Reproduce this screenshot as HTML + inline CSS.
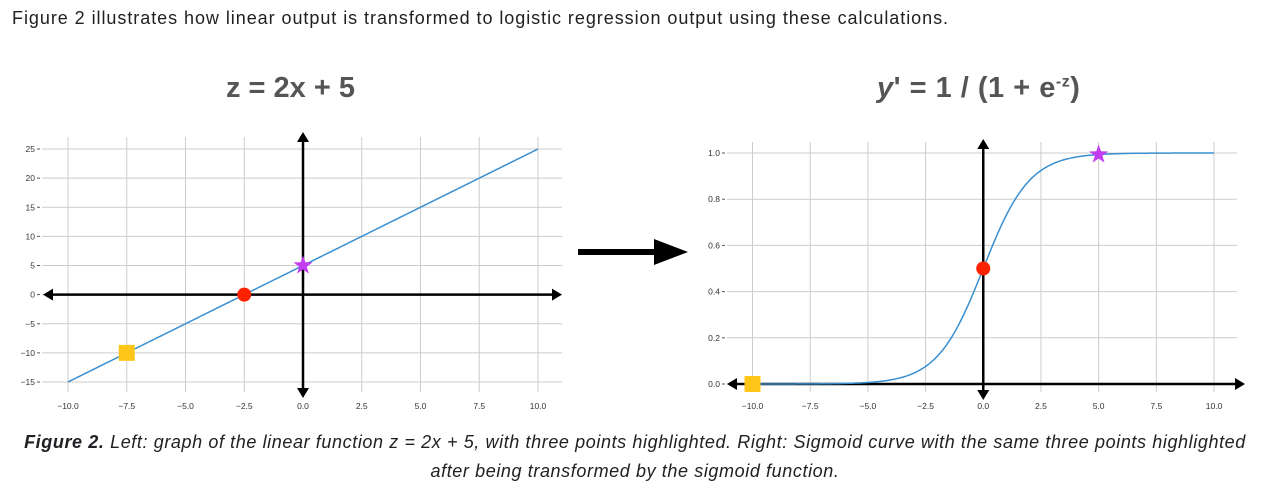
<!DOCTYPE html>
<html><head><meta charset="utf-8">
<style>
body{margin:0;width:1270px;height:499px;background:#fff;overflow:hidden;font-family:"Liberation Sans",sans-serif;}
#intro{position:absolute;left:12px;top:8px;font-size:18px;letter-spacing:0.95px;color:#202124;white-space:nowrap;}
.ttl{position:absolute;top:72px;font-size:29px;font-weight:bold;color:#555;white-space:nowrap;}
#cap{position:absolute;left:0;width:1270px;top:428px;text-align:center;font-size:18px;letter-spacing:0.6px;font-style:italic;color:#202124;line-height:29px;white-space:nowrap;}
svg{position:absolute;left:0;top:0;}
</style></head><body>
<div id="intro">Figure 2 illustrates how linear output is transformed to logistic regression output using these calculations.</div>
<div class="ttl" style="left:226px">z = 2x + 5</div>
<div class="ttl" style="left:877px;letter-spacing:0.5px"><i>y</i>' = 1 / (1 + e<sup style="font-size:16px">-z</sup>)</div>
<div id="cap"><b>Figure 2.</b> Left: graph of the linear function z = 2x + 5, with three points highlighted. Right: Sigmoid curve with the same three points highlighted<br>after being transformed by the sigmoid function.</div>
<svg id="s" width="1270" height="499">
<g><rect x="578" y="249" width="78" height="6" fill="#000"/><polygon points="654,239 688,252 654,265" fill="#000"/></g>
</svg>
<script>
const xTicks=[-10,-7.5,-5,-2.5,0,2.5,5,7.5,10];
const xTickLabels=["\u221210.0","\u22127.5","\u22125.0","\u22122.5","0.0","2.5","5.0","7.5","10.0"];
const leftYTicks=[25,20,15,10,5,0,-5,-10,-15];
const leftYLabels=["25","20","15","10","5","0","\u22125","\u221210","\u221215"];
const rightYTicks=[1.0,0.8,0.6,0.4,0.2,0.0];
const rightYLabels=["1.0","0.8","0.6","0.4","0.2","0.0"];
const pointX=[-7.5,-2.5,0];
const pointZ=[-10,0,5];
const rightPointX=[-10,0,5];
const rightPointY=[0.0000454,0.5,0.9933];
const markerShapes=["square","circle","star"];
const markerColors=["#ffc61a","#ff2200","#c23cf0"];
const NS="http://www.w3.org/2000/svg";
const svg=document.getElementById('s');
function el(t,a,p){const e=document.createElementNS(NS,t);for(const k in a)e.setAttribute(k,a[k]);(p||svg).appendChild(e);return e;}
function chart(cfg){
 const g=el('g',{});
 
 
 const sx=v=>cfg.x0+(v-cfg.xmin)/(cfg.xmax-cfg.xmin)*(cfg.x1-cfg.x0);
 const sy=v=>cfg.y0+(v-cfg.ymin)/(cfg.ymax-cfg.ymin)*(cfg.y1-cfg.y0);
 xTicks.forEach((t,i)=>{
  const l=el('line',{x1:sx(t),x2:sx(t),y1:cfg.gTop,y2:cfg.gBot,stroke:'#ccc','stroke-width':1},g);
  
  const tx=el('text',{x:sx(t),y:cfg.gBot+17,'font-size':8.5,'text-anchor':'middle',fill:'#333'},g);
  
  tx.textContent=xTickLabels[i];
 });
 cfg.yt.forEach((t,i)=>{
  const l=el('line',{x1:cfg.gL,x2:cfg.gR,y1:sy(t),y2:sy(t),stroke:'#ccc','stroke-width':1},g);
  
  el('line',{x1:cfg.gL-5,x2:cfg.gL-2,y1:sy(t),y2:sy(t),stroke:'#555'},g);
  const tx=el('text',{x:cfg.gL-7,y:sy(t)+3,'font-size':8.5,'text-anchor':'end',fill:'#333'},g);
  
  tx.textContent=cfg.yl[i];
 });
 const ax=el('g',{},g);
 const zy=sy(0),zx=sx(0);
 el('line',{x1:cfg.aL+8,x2:cfg.aR-8,y1:zy,y2:zy,stroke:'#000','stroke-width':2.5},ax);
 el('polygon',{points:`${cfg.aL},${zy} ${cfg.aL+10},${zy-6} ${cfg.aL+10},${zy+6}`},ax);
 el('polygon',{points:`${cfg.aR},${zy} ${cfg.aR-10},${zy-6} ${cfg.aR-10},${zy+6}`},ax);
 el('line',{x1:zx,x2:zx,y1:cfg.aT+8,y2:cfg.aB-8,stroke:'#000','stroke-width':2.5},ax);
 el('polygon',{points:`${zx},${cfg.aT} ${zx-6},${cfg.aT+10} ${zx+6},${cfg.aT+10}`},ax);
 el('polygon',{points:`${zx},${cfg.aB} ${zx-6},${cfg.aB-10} ${zx+6},${cfg.aB-10}`},ax);
 let d='';for(let i=0;i<=200;i++){const x=-10+i*0.1;d+=(i?'L':'M')+sx(x).toFixed(2)+','+sy(cfg.f(x)).toFixed(2);}
 const c=el('path',{d:d,fill:'none',stroke:'#3a8fd0','stroke-width':1.5},g);
 
 cfg.px.forEach((x,i)=>{
  const X=sx(x),Y=sy(cfg.py[i]);let m;
  if(markerShapes[i]==='square')m=el('rect',{x:X-8,y:Y-8,width:16,height:16,fill:markerColors[i]},g);
  else if(markerShapes[i]==='circle')m=el('circle',{cx:X,cy:Y,r:7,fill:markerColors[i]},g);
  else{let p=[];for(let k=0;k<10;k++){const r=k%2?4:10,a=-Math.PI/2+k*Math.PI/5;p.push((X+r*Math.cos(a)).toFixed(1)+','+(Y+r*Math.sin(a)).toFixed(1));}
   m=el('polygon',{points:p.join(' '),fill:markerColors[i]},g);}
  
 });
}
chart({name:'linear-chart',xmin:-10,xmax:10,x0:68,x1:538,ymin:-15,ymax:25,y0:382,y1:149,
 gL:42,gR:562,gTop:137,gBot:392,aL:43,aR:562,aT:132,aB:398,yt:leftYTicks,yl:leftYLabels,
 f:x=>2*x+5,px:pointX,py:pointZ});
chart({name:'sigmoid-chart',xmin:-10,xmax:10,x0:752.5,x1:1214,ymin:0,ymax:1,y0:384,y1:153,
 gL:727,gR:1237,gTop:142,gBot:392,aL:727,aR:1245,aT:139,aB:400,yt:rightYTicks,yl:rightYLabels,
 f:x=>1/(1+Math.exp(-x)),px:rightPointX,py:rightPointY});
</script>
</body></html>
